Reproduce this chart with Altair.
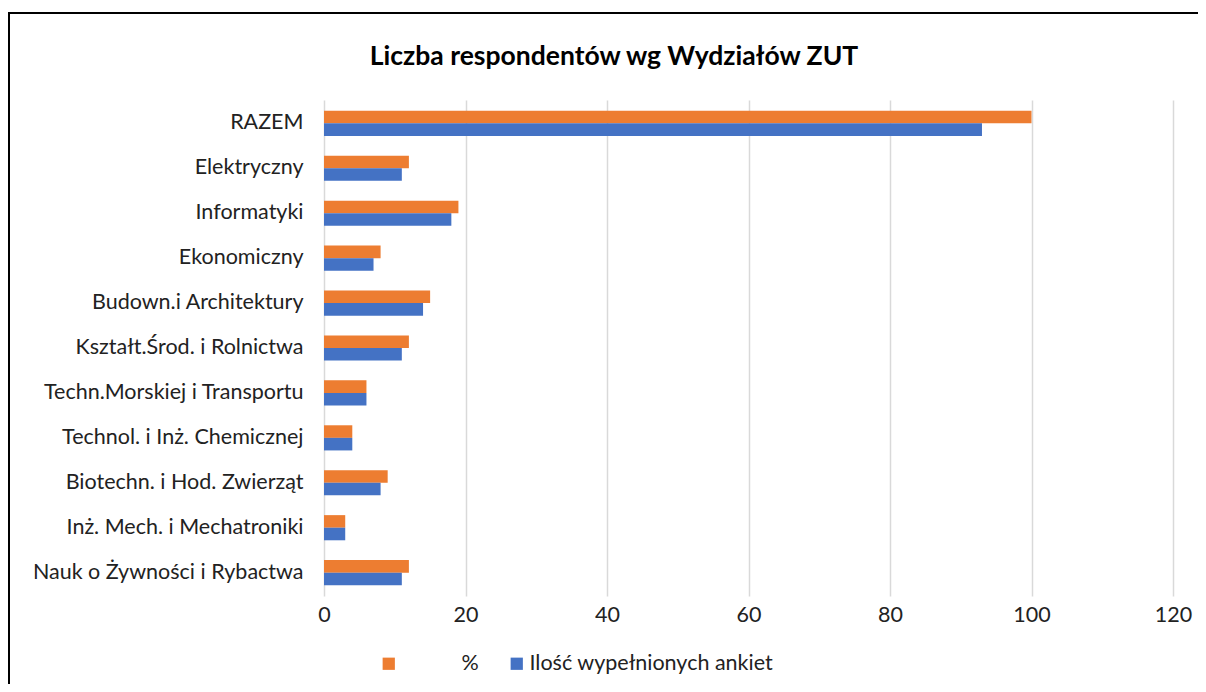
import altair as alt
import pandas as pd

categories = ["RAZEM", "Elektryczny", "Informatyki", "Ekonomiczny",
              "Budown.i Architektury", "Kształt.Środ. i Rolnictwa",
              "Techn.Morskiej i Transportu", "Technol. i Inż. Chemicznej",
              "Biotechn. i Hod. Zwierząt", "Inż. Mech. i Mechatroniki",
              "Nauk o Żywności i Rybactwa"]
series = ["%", "Ilość wypełnionych ankiet"]
pct_values = [100, 12, 19, 8, 15, 12, 6, 4, 9, 3, 12]
count_values = [93, 11, 18, 7, 14, 11, 6, 4, 8, 3, 11]
x_ticks = [0, 20, 40, 60, 80, 100, 120]
colors = ["#ED7D31", "#4472C4"]
title_text = "Liczba respondentów wg Wydziałów ZUT"

rows = []
for c, p, n in zip(categories, pct_values, count_values):
    rows.append({"kategoria": c, "seria": series[0], "wartosc": p})
    rows.append({"kategoria": c, "seria": series[1], "wartosc": n})
df = pd.DataFrame(rows)

FONT = "Lato"
FS = 21.5


def series_layer(i, legend_x, label_offset):
    return alt.Chart(df).transform_filter(
        alt.datum.seria == series[i]
    ).mark_bar().encode(
        y=alt.Y("kategoria:N", sort=categories, title=None,
                scale=alt.Scale(domain=categories, paddingInner=0.44, paddingOuter=0.24),
                axis=alt.Axis(domain=False, ticks=False, grid=False, labelPadding=21,
                              labelFontSize=FS, labelFont=FONT, labelColor="#222",
                              labelLimit=400)),
        yOffset=alt.YOffset("seria:N",
                            scale=alt.Scale(domain=series, paddingInner=0, paddingOuter=0)),
        x=alt.X("wartosc:Q", title=None,
                scale=alt.Scale(domain=[0, 120], nice=False),
                axis=alt.Axis(values=x_ticks, grid=True, gridColor="#d9d9d9", gridWidth=1.5,
                              domain=False, ticks=False, labelPadding=8, labelFlush=False,
                              labelFontSize=FS, labelFont=FONT, labelColor="#222")),
        color=alt.Color("seria:N",
                        scale=alt.Scale(domain=[series[i]], range=[colors[i]]),
                        legend=alt.Legend(title=None, orient="none", legendX=legend_x,
                                          legendY=553, symbolType="square",
                                          symbolSize=150, symbolStrokeWidth=0,
                                          labelOffset=label_offset,
                                          labelFontSize=FS, labelFont=FONT,
                                          labelColor="#222", labelLimit=400)),
    )


orange = series_layer(0, 54, 62)
blue = series_layer(1, 182, 2)

title = alt.Chart(alt.Data(values=[{}])).mark_text(
    font=FONT, fontSize=26.5, fontWeight="bold", color="#000", align="center", baseline="middle"
).encode(x=alt.value(290), y=alt.value(-43), text=alt.value(title_text))

border = alt.Chart(alt.Data(values=[{}])).mark_rect(
    filled=False, stroke="black", strokeWidth=2
).encode(
    x=alt.value(-315), x2=alt.value(1100), y=alt.value(-87), y2=alt.value(800)
)

chart = alt.layer(orange, blue, title, border).resolve_scale(
    color="independent"
).properties(
    width=849, height=496,
    autosize=alt.AutoSizeParams(type="none"),
    padding={"left": 316, "top": 92, "right": 25, "bottom": 88},
).configure_view(stroke=None)

chart.save("out.html", embed_options={"renderer": "svg", "actions": False})
